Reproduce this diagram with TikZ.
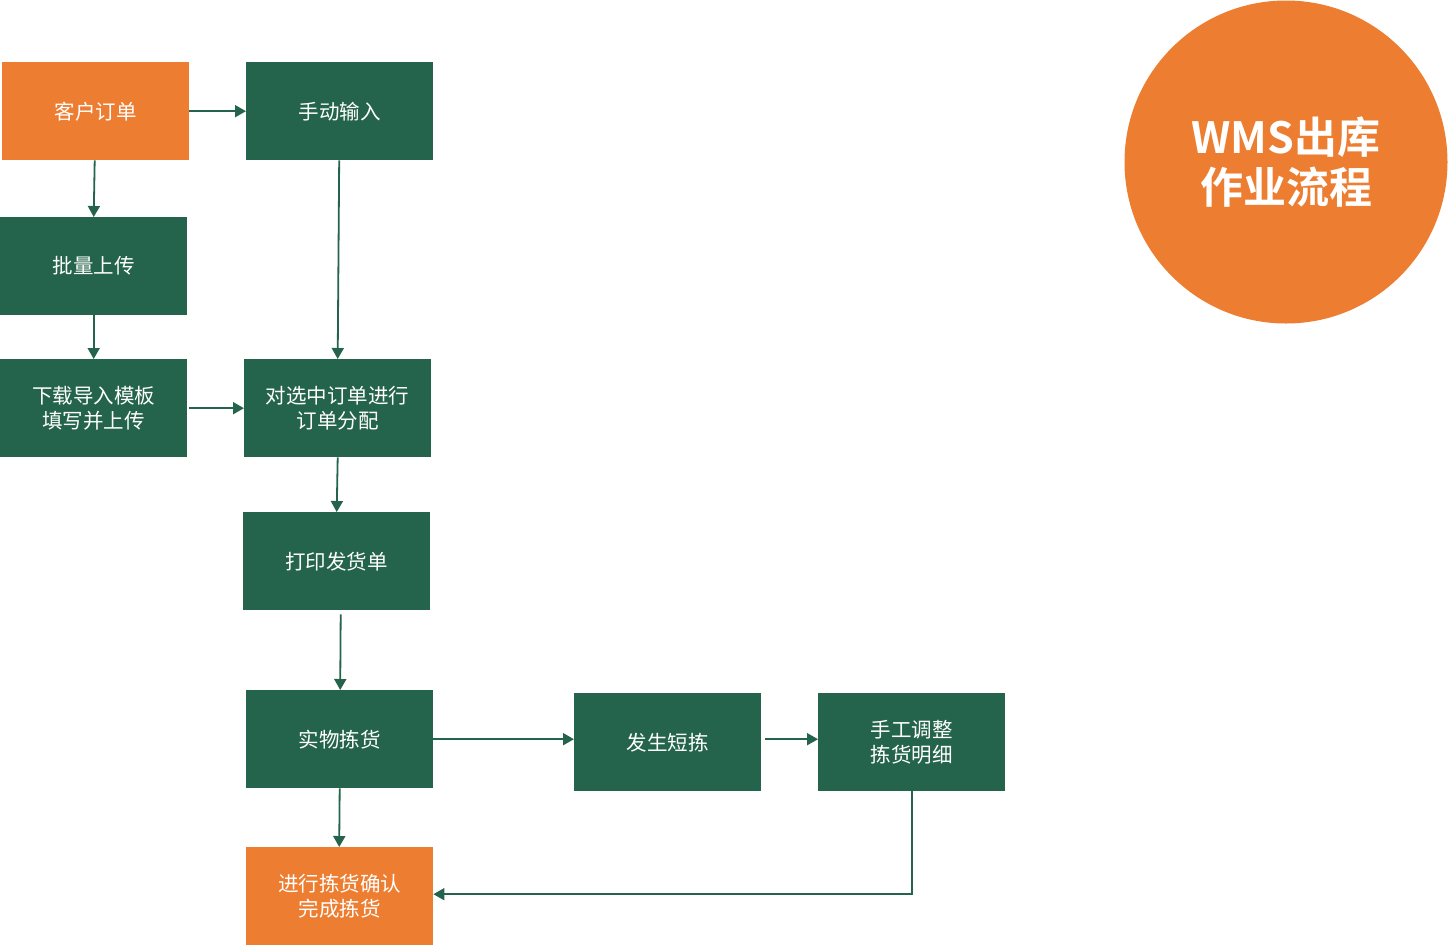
\documentclass[tikz,border=0pt]{standalone}
\usepackage{fontspec}
\setmainfont{Noto Sans CJK SC}
\newfontfamily\cjkbold{Noto Sans CJK SC Bold}
\usetikzlibrary{arrows.meta}
\definecolor{boxgreen}{HTML}{24634C}
\definecolor{boxorange}{HTML}{ED7D31}
\tikzset{
  stepbox/.style={rectangle, fill=boxgreen, text=white, minimum width=187pt, minimum height=98pt, inner sep=0pt, align=center, font=\fontsize{20.5}{25}\selectfont, anchor=north west},
  orangebox/.style={stepbox, fill=boxorange},
  flow/.style={draw=boxgreen, line width=1.8pt, -{Triangle[length=11pt,width=12pt]}}
}
\begin{document}
\begin{tikzpicture}[x=1pt,y=-1pt]
\useasboundingbox (0,0) rectangle (1449,946);
\node[orangebox] (order) at (2,62) {客户订单};
\node[stepbox] (manual) at (246,62) {手动输入};
\node[stepbox] (batch) at (0,217) {批量上传};
\node[stepbox] (templ) at (0,359) {下载导入模板\\填写并上传};
\node[stepbox] (alloc) at (244,359) {对选中订单进行\\订单分配};
\node[stepbox] (print) at (243,512) {打印发货单};
\node[stepbox] (pick) at (246,690) {实物拣货};
\node[stepbox] (short) at (574,693) {发生短拣};
\node[stepbox] (adjust) at (818,693) {手工调整\\拣货明细};
\node[orangebox] (confirm) at (246,847) {进行拣货确认\\完成拣货};
\node[circle, fill=boxorange, minimum size=323pt, inner sep=0pt, text=white, align=center, font=\cjkbold\fontsize{43}{50}\selectfont] (title) at (1286,162) {WMS出库\\作业流程};
\draw[flow] (order.east) -- (manual.west);
\draw[flow] ([xshift=-1pt]order.south) -- (batch.north);
\draw[flow] (batch.south) -- (templ.north);
\draw[flow] ([xshift=2pt]templ.east) -- (alloc.west);
\draw[flow] ([xshift=-0.5pt]manual.south) -- (alloc.north);
\draw[flow] (alloc.south) -- (print.north);
\draw[flow] ([xshift=4pt,yshift=-4pt]print.south) -- ([xshift=3.5pt]print.south |- pick.north);
\draw[flow] (pick.east) -- (pick.east -| short.west);
\draw[flow] ([xshift=4pt]short.east |- pick.east) -- (pick.east -| adjust.west);
\draw[flow] (pick.south) -- ([xshift=-0.5pt]confirm.north);
\draw[flow] (adjust.south) |- ([yshift=2pt]confirm.east);
\end{tikzpicture}
\end{document}
